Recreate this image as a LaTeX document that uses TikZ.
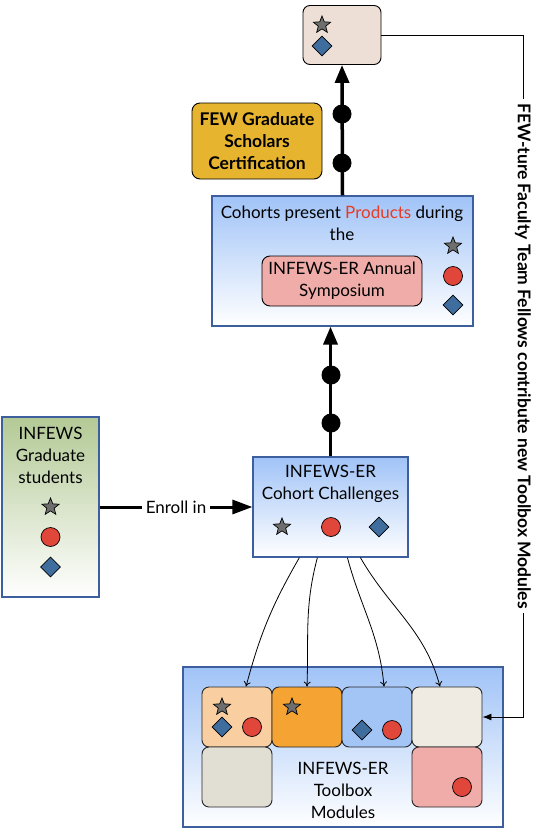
\documentclass[tikz,border=0pt]{standalone}
\usepackage{fontspec}
\setmainfont{Lato}
\usetikzlibrary{calc}
\usetikzlibrary{arrows.meta, shapes.geometric}

\definecolor{frameblue}{HTML}{3D5F9E}
\definecolor{paneblue}{HTML}{A0C3F7}
\definecolor{panegreen}{HTML}{B3C995}
\definecolor{stargray}{HTML}{6E6E6E}
\definecolor{dotred}{HTML}{E0463A}
\definecolor{diablue}{HTML}{3F6E9E}
\definecolor{gold}{HTML}{E6B42E}
\definecolor{sand}{HTML}{EEDFD6}
\definecolor{peach}{HTML}{F9CFA2}
\definecolor{orange}{HTML}{F5A434}
\definecolor{cellblue}{HTML}{A3C5F6}
\definecolor{bone}{HTML}{EFEBE2}
\definecolor{stone}{HTML}{E1DFD4}
\definecolor{rose}{HTML}{EFACA9}
\definecolor{prodred}{HTML}{E63B25}

\begin{document}
\begin{tikzpicture}[x=1pt, y=1pt, font=\fontsize{17}{22}\selectfont,
  panel/.style={draw=frameblue, line width=1.2pt, top color=#1, bottom color=white,
    inner sep=0pt},
  cell/.style={draw=black!85, line width=0.9pt, rounded corners=7pt, fill=#1,
    minimum width=70pt, minimum height=60pt, inner sep=0pt},
  starsym/.style={star, star points=5, star point ratio=2.3, minimum size=18pt,
    inner sep=0pt, draw=black, fill=stargray, line width=0.7pt},
  dotsym/.style={circle, minimum size=19pt, inner sep=0pt, draw=black,
    fill=dotred, line width=0.7pt},
  diasym/.style={diamond, minimum size=20pt, inner sep=0pt, draw=black,
    fill=diablue, line width=0.7pt},
  blob/.style={circle, fill=black, minimum size=19pt, inner sep=0pt},
  bigarrow/.style={line width=3.5pt, -{Triangle[length=18pt, width=14pt]}},
  ]
  \useasboundingbox (0,0) rectangle (541,-833);

  \node[draw=black, line width=0.9pt, rounded corners=7pt, fill=sand,
    minimum width=78pt, minimum height=59pt] (goal) at (342,-35) {};
  \node[starsym] (goalstar) at (322,-25) {};
  \node[diasym] (goaldia) at (322,-46) {};

  \node[draw=black, line width=0.9pt, rounded corners=8pt, fill=gold,
    minimum width=130pt, minimum height=76pt, align=center,
    font=\fontsize{17.5}{22}\selectfont\bfseries] (cert) at (257,-141)
    {FEW Graduate\\Scholars\\Certification};

  \node[panel=paneblue, minimum width=261pt, minimum height=130pt] (symp)
    at (342.5,-261) {};
  \node[align=center] (symptext) at (342,-223)
    {Cohorts present \textcolor{prodred}{Products} during\\the};
  \node[draw=black, line width=0.9pt, rounded corners=8pt, fill=rose,
    minimum width=160pt, minimum height=50pt, align=center] (annual)
    at (342,-281) {INFEWS-ER Annual\\Symposium};
  \node[starsym] (sympstar) at (453,-246) {};
  \node[dotsym] (sympdot) at (453,-276) {};
  \node[diasym] (sympdia) at (453,-305) {};

  \node[panel=paneblue, minimum width=155pt, minimum height=100pt] (cohort)
    at (330.5,-507) {};
  \node[align=center] (cohorttext) at (330.5,-484)
    {INFEWS-ER\\Cohort Challenges};
  \node[starsym] (cohortstar) at (282,-527) {};
  \node[dotsym] (cohortdot) at (331,-527) {};
  \node[diasym] (cohortdia) at (379,-527) {};

  \node[panel=panegreen, minimum width=97pt, minimum height=180pt] (grad)
    at (50.5,-507) {};
  \node[align=center] (gradtext) at (50.5,-455) {INFEWS\\Graduate\\students};
  \node[starsym] (gradstar) at (50.5,-507) {};
  \node[dotsym] (graddot) at (50.5,-537) {};
  \node[diasym] (graddia) at (50.5,-567) {};

  \node[panel=paneblue, minimum width=320pt, minimum height=160pt] (toolbox)
    at (343,-747) {};
  \foreach \col/\row/\clr in {1/1/peach, 2/1/orange, 3/1/cellblue, 4/1/bone,
    1/2/stone, 4/2/rose} {
    \node[cell=\clr] (c\col\row) at ({167+70*\col}, {-657-60*\row}) {};
  }
  \node[align=center] (tooltext) at (343,-790) {INFEWS-ER\\Toolbox\\Modules};
  \node[starsym] at ($(c11)+(-15,10)$) {};
  \node[diasym] at ($(c11)+(-15,-10)$) {};
  \node[dotsym] at ($(c11)+(15,-10)$) {};
  \node[starsym] at ($(c21)+(-15,10)$) {};
  \node[diasym] at ($(c31)+(-15,-13)$) {};
  \node[dotsym] at ($(c31)+(15,-13)$) {};
  \node[dotsym] at ($(c42)+(15,-10)$) {};

  \draw[bigarrow] (cohort.north) -- (cohort.north |- symp.south);
  \node[blob] (low1) at (331,-375) {};
  \node[blob] (low2) at (331,-423) {};
  \draw[bigarrow] (symp.north) -- (goal.south);
  \node[blob] (up1) at (342,-114) {};
  \node[blob] (up2) at (342,-163) {};

  \draw[line width=3pt, -{Triangle[length=20pt, width=14pt]}] (grad.east)
    -- node[fill=white, inner sep=4pt] (enroll) {Enroll in} (cohort.west);

  \foreach \s/\c/\dx/\o/\i in {47/11/9/-120/75, 65/21/0/-105/88,
    95/31/7/-75/95, 108/41/-7/-60/105} {
    \draw[line width=0.8pt, -{To[length=5pt, width=7pt]}]
      ($(cohort.south west)+(\s,0)$) to[out=\o, in=\i] ($(c\c.north)+(\dx,0)$);
  }

  \coordinate (rim) at (523,-35);
  \draw[line width=0.9pt, -{Latex[length=9pt, width=7pt]}] (goal.east) -- (rim)
    |- (c41.east);
  \node[rotate=-90, fill=white, inner sep=4pt, font=\fontsize{17.5}{22}\selectfont\bfseries]
    (fellows) at (523,-356)
    {FEW-ture Faculty Team Fellows contribute new Toolbox Modules};
\end{tikzpicture}
\end{document}
